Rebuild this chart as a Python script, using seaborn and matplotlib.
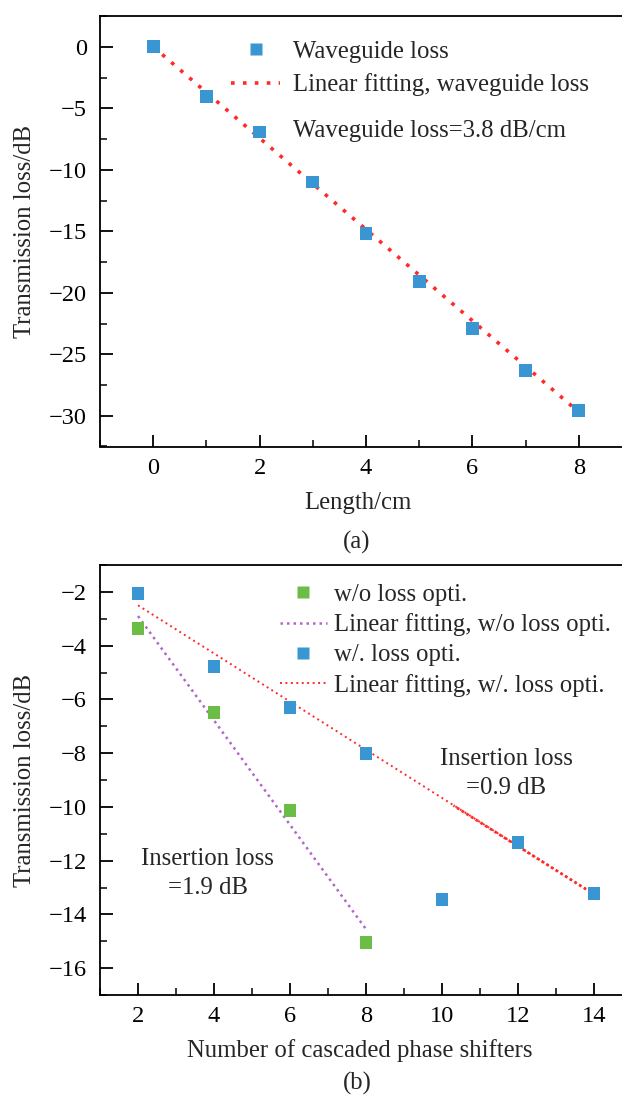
import numpy as np
import pandas as pd
import matplotlib
matplotlib.use("Agg")
import matplotlib.pyplot as plt
from matplotlib.lines import Line2D
from matplotlib.ticker import MultipleLocator
import seaborn as sns

# ---------------- data ----------------
# panel (a)
length_cm = [0, 1, 2, 3, 4, 5, 6, 7, 8]
wg_loss_db = [0.0, -4.07, -6.93, -11.0, -15.16, -19.07, -22.9, -26.3, -29.6]
fit_a_x = [0, 8]
fit_a_y = [0.0, -29.7]

# panel (b)
n_shifters_wo = [2, 4, 6, 8]
loss_wo = [-3.35, -6.48, -10.12, -15.05]
n_shifters_w = [2, 4, 6, 8, 10, 12, 14]
loss_w = [-2.05, -4.78, -6.3, -8.02, -13.45, -11.32, -13.22]
fit_wo_x = [2, 8]
fit_wo_y = [-2.9, -14.55]
fit_w_x = [2, 14]
fit_w_y = [-2.5, -13.25]
overlap_x = [10.3, 14]
overlap_y = [-9.95, -13.25]

# ---------------- style ----------------
sns.set_theme(style="ticks")
plt.rcParams["font.family"] = ["Liberation Serif", "DejaVu Serif"]
plt.rcParams["mathtext.fontset"] = "stix"

BLUE = "#3a95d3"
GREEN = "#6cbd45"
RED = "#ff2b2b"
PURPLE = "#b266c6"

TICK_FS = 17.6
LAB_FS = 17.8

W, H = 622, 1098
fig = plt.figure(figsize=(W / 100, H / 100), dpi=100)


def axes_px(left, right, top, bottom):
    return fig.add_axes([left / W, 1 - bottom / H, (right - left) / W, (bottom - top) / H])


def style_axes(ax):
    for s in ["left", "bottom", "top", "right"]:
        ax.spines[s].set_linewidth(1.3)
        ax.spines[s].set_color("black")
    ax.tick_params(which="both", direction="in", colors="black", labelsize=TICK_FS,
                   top=False, right=False)
    ax.tick_params(which="major", length=9, width=1.3)
    ax.tick_params(which="minor", length=5, width=1.1)
    ax.tick_params(axis="x", which="major", pad=8)
    ax.tick_params(axis="y", which="major", pad=9.5)


# ---------------- panel (a) ----------------
ax1 = axes_px(100, 632, 16, 446.5)
df_a = pd.DataFrame({"x": length_cm, "y": wg_loss_db})
sns.lineplot(x=fit_a_x, y=fit_a_y, ax=ax1, color=RED, lw=2.6,
             linestyle=(0, (1.0, 2.3)), zorder=2)
sns.scatterplot(data=df_a, x="x", y="y", ax=ax1, marker="s", s=85, color=BLUE,
                edgecolor="none", linewidth=0, zorder=3)
ax1.set_xlim(-1, 9)
ax1.set_ylim(-32.5, 2.5)
ax1.xaxis.set_major_locator(MultipleLocator(2))
ax1.xaxis.set_minor_locator(MultipleLocator(1))
ax1.yaxis.set_major_locator(MultipleLocator(5))
ax1.yaxis.set_minor_locator(MultipleLocator(2.5))
style_axes(ax1)
ax1.set_xlabel("Length/cm", fontsize=LAB_FS)
ax1.set_ylabel("Transmission loss/dB", fontsize=LAB_FS)
ax1.xaxis.set_label_coords(0.5 - 8 / 532, -(492 - 446.5) / 430.5)
ax1.yaxis.set_label_coords(-(100 - 36) / 532, 0.5)

h_a = [Line2D([], [], marker="s", ms=9.2, color=BLUE, lw=0, mec="none"),
       Line2D([], [], color=RED, lw=2.6, linestyle=(0, (1.0, 2.3)))]
ax1.legend(h_a, ["Waveguide loss", "Linear fitting, waveguide loss"],
           loc="upper left", bbox_to_anchor=(0.246, 0.943), frameon=False,
           fontsize=LAB_FS, handlelength=2.0, handletextpad=0.5,
           labelspacing=0.42, borderpad=0, borderaxespad=0)
ax1.text(0.363, 0.733, "Waveguide loss=3.8 dB/cm", transform=ax1.transAxes,
         fontsize=LAB_FS, ha="left", va="center")

# ---------------- panel (b) ----------------
ax2 = axes_px(100, 632, 565, 995)
df_wo = pd.DataFrame({"x": n_shifters_wo, "y": loss_wo})
df_w = pd.DataFrame({"x": n_shifters_w, "y": loss_w})
sns.lineplot(x=fit_wo_x, y=fit_wo_y, ax=ax2, color=PURPLE, lw=1.8,
             linestyle=(0, (1.0, 1.6)), zorder=2)
sns.lineplot(x=fit_w_x, y=fit_w_y, ax=ax2, color=RED, lw=1.4,
             linestyle=(0, (1.0, 1.8)), zorder=2)
sns.lineplot(x=overlap_x, y=overlap_y, ax=ax2, color=RED, lw=2.0,
             linestyle=(0.5, (1.0, 1.0)), zorder=2)
sns.scatterplot(data=df_wo, x="x", y="y", ax=ax2, marker="s", s=85, color=GREEN,
                edgecolor="none", linewidth=0, zorder=3)
sns.scatterplot(data=df_w, x="x", y="y", ax=ax2, marker="s", s=85, color=BLUE,
                edgecolor="none", linewidth=0, zorder=3)
ax2.set_xlim(1, 15)
ax2.set_ylim(-17, -1)
ax2.xaxis.set_major_locator(MultipleLocator(2))
ax2.xaxis.set_minor_locator(MultipleLocator(1))
ax2.yaxis.set_major_locator(MultipleLocator(2))
ax2.yaxis.set_minor_locator(MultipleLocator(1))
style_axes(ax2)
ax2.set_xlabel("Number of cascaded phase shifters", fontsize=LAB_FS)
ax2.set_ylabel("Transmission loss/dB", fontsize=LAB_FS)
ax2.xaxis.set_label_coords(0.5 - 6 / 532, -(1039 - 995) / 430)
ax2.yaxis.set_label_coords(-(100 - 36) / 532, 0.5)

h_b = [Line2D([], [], marker="s", ms=9.2, color=GREEN, lw=0, mec="none"),
       Line2D([], [], color=PURPLE, lw=1.8, linestyle=(0, (1.0, 1.6))),
       Line2D([], [], marker="s", ms=9.2, color=BLUE, lw=0, mec="none"),
       Line2D([], [], color=RED, lw=1.4, linestyle=(0, (1.0, 1.8)))]
ax2.legend(h_b, ["w/o loss opti.", "Linear fitting, w/o loss opti.",
                 "w/. loss opti.", "Linear fitting, w/. loss opti."],
           loc="upper left", bbox_to_anchor=(0.338, 0.957), frameon=False,
           fontsize=LAB_FS, handlelength=1.9, handletextpad=0.3,
           labelspacing=0.31, borderpad=0, borderaxespad=0)
ax2.text(11.69, -8.77, "Insertion loss\n=0.9 dB", fontsize=LAB_FS,
         ha="center", va="center", multialignment="center", linespacing=1.43)
ax2.text(3.84, -12.49, "Insertion loss\n=1.9 dB", fontsize=LAB_FS,
         ha="center", va="center", multialignment="center", linespacing=1.43)

fig.text(357 / W, 1 - 542 / H, "(a)", fontsize=LAB_FS, ha="center", va="center")
fig.text(357 / W, 1 - 1083 / H, "(b)", fontsize=LAB_FS, ha="center", va="center")

fig.savefig("out.png", dpi=100)
